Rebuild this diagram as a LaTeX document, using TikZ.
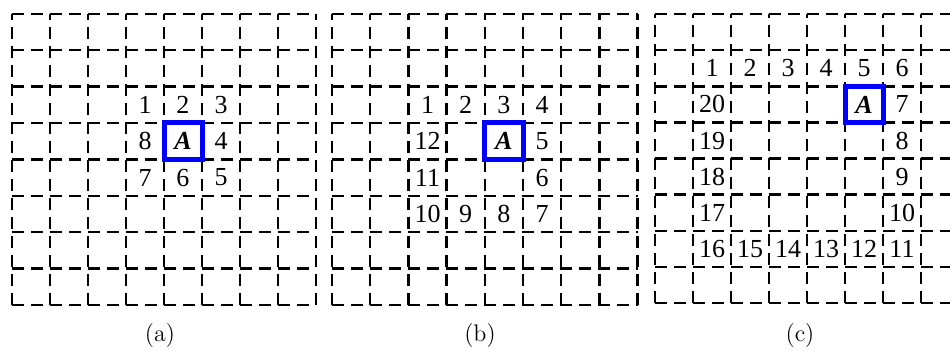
\documentclass[tikz,border=0pt]{standalone}
\usepackage{fontspec}
\usepackage{tikz}
\newfontfamily\numfont{Liberation Serif}
\tikzset{
  gridline/.style={line width=1.2pt,dash pattern=on 6pt off 3.5pt},
  abox/.style={draw=blue,line width=2.5pt},
  num/.style={font=\numfont\fontsize{13}{15}\selectfont,inner sep=0pt},
  alabel/.style={font=\numfont\fontsize{13}{15}\selectfont\bfseries\itshape,inner sep=0pt},
  caption/.style={font=\large}
}

\begin{document}
\begin{tikzpicture}[x=0.5pt,y=0.5pt]
    \useasboundingbox (0,0) rectangle (950,351);

    \begin{scope}[xshift=6pt,yshift=23pt,x=19pt,y=18.2pt]
        \foreach \i in {0,...,8} {
            \draw[gridline] (\i,0) -- (\i,8);
            \draw[gridline] (0,\i) -- (8,\i);
        }
        \draw[abox] (4,4) rectangle (5,5);
        \node[alabel] (aA) at (4.5,4.5) {A};
        \node[num] (a1) at (3.5,5.5) {1};
        \node[num] (a2) at (4.5,5.5) {2};
        \node[num] (a3) at (5.5,5.5) {3};
        \node[num] (a4) at (5.5,4.5) {4};
        \node[num] (a5) at (5.5,3.5) {5};
        \node[num] (a6) at (4.5,3.5) {6};
        \node[num] (a7) at (3.5,3.5) {7};
        \node[num] (a8) at (3.5,4.5) {8};
    \end{scope}

    \begin{scope}[xshift=166pt,yshift=23pt,x=19.1pt,y=18.2pt]
        \foreach \i in {0,...,8} {
            \draw[gridline] (\i,0) -- (\i,8);
            \draw[gridline] (0,\i) -- (8,\i);
        }
        \draw[abox] (4,4) rectangle (5,5);
        \node[alabel] (bA) at (4.5,4.5) {A};
        \node[num] (b1) at (2.5,5.5) {1};
        \node[num] (b2) at (3.5,5.5) {2};
        \node[num] (b3) at (4.5,5.5) {3};
        \node[num] (b4) at (5.5,5.5) {4};
        \node[num] (b5) at (5.5,4.5) {5};
        \node[num] (b6) at (5.5,3.5) {6};
        \node[num] (b7) at (5.5,2.5) {7};
        \node[num] (b8) at (4.5,2.5) {8};
        \node[num] (b9) at (3.5,2.5) {9};
        \node[num] (b10) at (2.5,2.5) {10};
        \node[num] (b11) at (2.5,3.5) {11};
        \node[num] (b12) at (2.5,4.5) {12};
    \end{scope}

    \begin{scope}[xshift=327.5pt,yshift=24pt,x=19pt,y=18.05pt]
        \clip (-0.2,-0.2) rectangle (15.2,8.2);
        \foreach \i in {0,...,8} {
            \draw[gridline] (\i,0) -- (\i,8);
            \draw[gridline] (0,\i) -- (8,\i);
        }
        \draw[abox] (5,5) rectangle (6,6);
        \node[alabel] (cA) at (5.5,5.5) {A};
        \foreach \n [count=\k] in {1,...,6}
            \node[num] (c\n) at (\k+0.5,6.5) {\n};
        \foreach \n [count=\k] in {7,...,11}
            \node[num] (c\n) at (6.5,6.5-\k) {\n};
        \foreach \n [count=\k] in {12,...,16}
            \node[num] (c\n) at (6.5-\k,1.5) {\n};
        \foreach \n [count=\k] in {17,...,20}
            \node[num] (c\n) at (1.5,1.5+\k) {\n};
    \end{scope}

    \node[caption] (capa) at (160,15) {(a)};
    \node[caption] (capb) at (480,15) {(b)};
    \node[caption] (capc) at (800,15) {(c)};
\end{tikzpicture}
\end{document}
